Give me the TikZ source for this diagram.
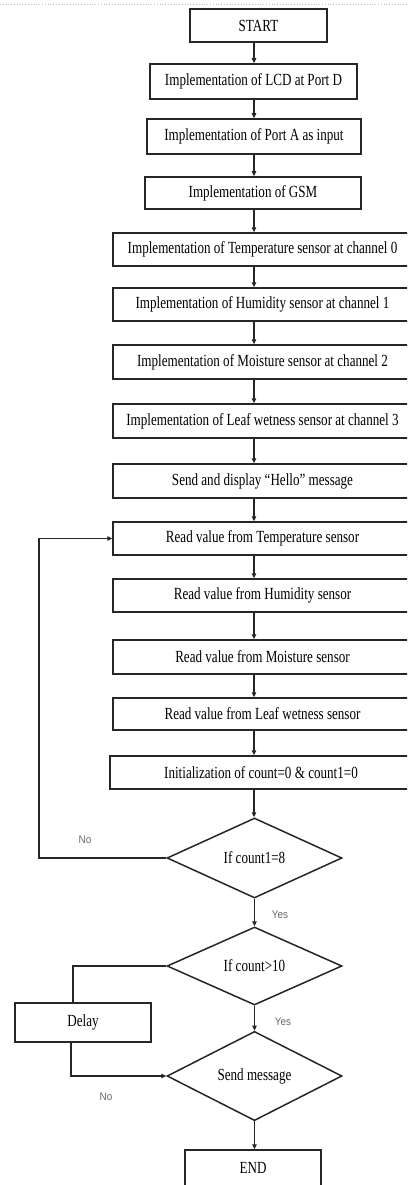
\documentclass[tikz,border=0pt]{standalone}
\usepackage{fontspec}
\newfontfamily\boxfont{Liberation Serif}[FakeStretch=0.77]
\newfontfamily\tagfont{Liberation Sans}[FakeStretch=0.9]
\usetikzlibrary{shapes.geometric,arrows.meta}

\begin{document}
\begin{tikzpicture}[x=1pt,y=-1pt,
  box/.style={draw=black!85,line width=1.5pt,rectangle,inner sep=0pt,
    font=\boxfont\fontsize{17}{20}\selectfont},
  decision/.style={draw=black!85,line width=1.5pt,diamond,inner sep=0pt,
    minimum width=175pt,minimum height=79pt,font=\boxfont\fontsize{17}{20}\selectfont},
  flow/.style={draw=black!85,line width=1.1pt,-{Triangle[length=5pt,width=4.5pt]}},
  tag/.style={text=black!60,font=\tagfont\fontsize{11}{13}\selectfont}]
  \useasboundingbox (0,0) rectangle (407,1185);
  \clip (0,0) rectangle (407,1185);

  % Page edge
  \draw[black!25,dotted,line width=0.8pt] (0,4) -- (407,4);

  % Column of steps
  \coordinate (axis) at (254,0);
  \node[box,minimum width=137pt,minimum height=33pt] (start) at (258.5,25.5) {START};
  \node[box,minimum width=207pt,minimum height=35pt] (lcd) at (253.5,81.5) {Implementation of LCD at Port D};
  \node[box,minimum width=214pt,minimum height=35pt] (porta) at (254,136.5) {Implementation of Port A as input};
  \node[box,minimum width=216pt,minimum height=32pt] (gsm) at (253,193) {Implementation of GSM};
  \node[box,minimum width=299pt,minimum height=33pt] (tempch) at (262.5,249.5) {Implementation of Temperature sensor at channel 0};
  \node[box,minimum width=299pt,minimum height=33pt] (humch) at (262.5,304.5) {Implementation of Humidity sensor at channel 1};
  \node[box,minimum width=299pt,minimum height=34pt] (moistch) at (262.5,362) {Implementation of Moisture sensor at channel 2};
  \node[box,minimum width=299pt,minimum height=34pt] (leafch) at (262.5,421) {Implementation of Leaf wetness sensor at channel 3};
  \node[box,minimum width=299pt,minimum height=34pt] (hello) at (262.5,481) {Send and display “Hello” message};
  \node[box,minimum width=299pt,minimum height=33pt] (rtemp) at (262.5,538.5) {Read value from Temperature sensor};
  \node[box,minimum width=299pt,minimum height=33pt] (rhum) at (262.5,595.5) {Read value from Humidity sensor};
  \node[box,minimum width=299pt,minimum height=34pt] (rmoist) at (262.5,657) {Read value from Moisture sensor};
  \node[box,minimum width=299pt,minimum height=32pt] (rleaf) at (262.5,714) {Read value from Leaf wetness sensor};
  \node[box,minimum width=302pt,minimum height=33pt] (init) at (261,772.5) {Initialization of count=0 \& count1=0};

  % Decisions
  \node[decision,minimum height=80pt] (countone) at (254.5,858) {If count1=8};
  \node[decision,minimum height=78pt] (countten) at (254.5,966) {If count>10};
  \node[decision,minimum height=78pt] (sendmsg) at (254.5,1076) {Send message};
  \node[box,minimum width=136pt,minimum height=39pt] (delay) at (83,1022.5) {Delay};
  \node[box,minimum width=136pt,minimum height=36pt] (stop) at (253,1168) {END};

  % Straight flow
  \foreach \a/\b in {start/lcd,lcd/porta,porta/gsm,gsm/tempch,tempch/humch,
      humch/moistch,moistch/leafch,leafch/hello,hello/rtemp,rtemp/rhum,
      rhum/rmoist,rmoist/rleaf,rleaf/init,init/countone}
    \draw[flow] (\a.south -| axis) -- (\b.north -| axis);
  \draw[flow] (countone.south) -- (countten.north);
  \draw[flow] (countten.south) -- (sendmsg.north);
  \draw[flow] (sendmsg.south) -- (stop.north -| sendmsg.south);

  % Loop back and delay branch
  \coordinate (loopx) at (39,0);
  \draw[flow] (countone.west) -- (countone.west -| loopx) |- (rtemp.west);
  \draw[draw=black!85,line width=1.1pt] (countten.west) -| ([xshift=-10pt]delay.north);
  \draw[flow] ([xshift=-12pt]delay.south) |- (sendmsg.west);

  % Branch labels
  \node[tag] (nolabel) at (85,840) {No};
  \node[tag] (yeslabel) at (280,915) {Yes};
  \node[tag] (yestwo) at (283,1022) {Yes};
  \node[tag] (notwo) at (106,1097) {No};
\end{tikzpicture}
\end{document}
